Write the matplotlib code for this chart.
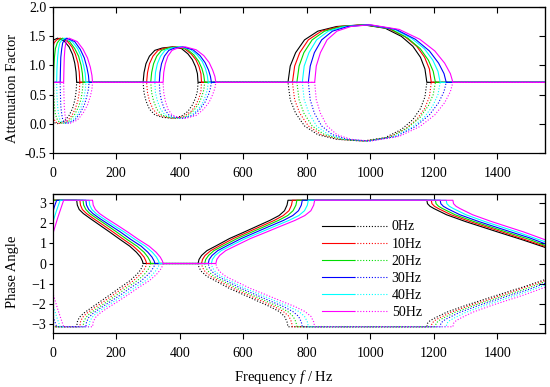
import matplotlib
matplotlib.use("Agg")
import matplotlib.pyplot as plt
from matplotlib.legend_handler import HandlerTuple

plt.rcParams['font.family'] = ['Liberation Serif', 'DejaVu Serif']
plt.rcParams['font.size'] = 10
plt.rcParams['mathtext.fontset'] = 'custom'
plt.rcParams['mathtext.it'] = 'Liberation Serif:italic'
plt.rcParams['mathtext.rm'] = 'Liberation Serif'

labels = ['0Hz', '10Hz', '20Hz', '30Hz', '40Hz', '50Hz']
top_colors = ['black', 'red', '#00dd00', 'cyan', 'blue', 'magenta']
bot_colors = ['black', 'red', '#00dd00', 'blue', 'cyan', 'magenta']

x_ticks = [0, 200, 400, 600, 800, 1000, 1200, 1400]
att_ticks = [-0.5, 0.0, 0.5, 1.0, 1.5, 2.0]
phase_ticks = [-3, -2, -1, 0, 1, 2, 3]

# ---- attenuation factor, solid = upper, dotted = lower
att_f_0 = [0, 4, 16, 37, 52, 63, 70, 74, 76,
           285, 288, 294, 305, 322, 345, 378, 406, 426, 440, 450, 456, 458,
           741, 748, 765, 793, 835, 894, 977, 1047, 1098, 1134, 1158, 1172, 1178, 1550]
att_up_0 = [1.41, 1.44, 1.47, 1.42, 1.32, 1.19, 1.04, 0.89, 0.71,
            0.71, 0.88, 1.03, 1.16, 1.26, 1.30, 1.32, 1.29, 1.20, 1.10, 0.98, 0.86, 0.71,
            0.71, 0.99, 1.22, 1.44, 1.59, 1.67, 1.70, 1.64, 1.50, 1.33, 1.14, 0.94, 0.71, 0.71]
att_lo_0 = [0.05, 0.02, 0.00, 0.04, 0.14, 0.26, 0.40, 0.54, 0.71,
            0.71, 0.53, 0.39, 0.25, 0.15, 0.11, 0.09, 0.13, 0.21, 0.32, 0.44, 0.56, 0.71,
            0.71, 0.41, 0.18, -0.04, -0.19, -0.27, -0.30, -0.24, -0.10, 0.07, 0.26, 0.46, 0.71, 0.71]

att_f_10 = [0, 5, 13, 24, 46, 61, 72, 80, 84, 86,
            296, 299, 305, 316, 332, 355, 386, 415, 436, 451, 461, 467, 469,
            755, 762, 778, 805, 846, 903, 982, 1056, 1108, 1146, 1171, 1186, 1192, 1550]
att_up_10 = [1.29, 1.39, 1.44, 1.47, 1.42, 1.32, 1.19, 1.04, 0.89, 0.71,
             0.71, 0.88, 1.03, 1.16, 1.26, 1.30, 1.32, 1.29, 1.20, 1.10, 0.98, 0.86, 0.71,
             0.71, 0.99, 1.22, 1.44, 1.59, 1.67, 1.70, 1.64, 1.50, 1.33, 1.14, 0.94, 0.71, 0.71]
att_lo_10 = [0.16, 0.07, 0.02, 0.00, 0.04, 0.14, 0.26, 0.40, 0.54, 0.71,
             0.71, 0.53, 0.39, 0.25, 0.15, 0.11, 0.09, 0.13, 0.21, 0.32, 0.44, 0.56, 0.71,
             0.71, 0.41, 0.18, -0.04, -0.19, -0.27, -0.30, -0.24, -0.10, 0.07, 0.26, 0.46, 0.71, 0.71]

att_f_20 = [0, 3, 4, 6, 9, 15, 22, 32, 54, 70, 82, 90, 94, 96,
            309, 312, 318, 328, 343, 364, 394, 424, 445, 460, 470, 476, 479,
            769, 776, 791, 817, 856, 911, 987, 1063, 1118, 1157, 1183, 1198, 1205, 1550]
att_up_20 = [0.71, 0.71, 0.95, 1.14, 1.29, 1.39, 1.44, 1.47, 1.41, 1.29, 1.16, 1.00, 0.86, 0.71,
             0.71, 0.88, 1.03, 1.16, 1.26, 1.30, 1.32, 1.28, 1.18, 1.07, 0.95, 0.83, 0.71,
             0.71, 0.99, 1.22, 1.44, 1.59, 1.67, 1.70, 1.63, 1.47, 1.29, 1.09, 0.90, 0.71, 0.71]
att_lo_20 = [0.71, 0.71, 0.48, 0.30, 0.16, 0.07, 0.02, 0.00, 0.05, 0.16, 0.29, 0.43, 0.57, 0.71,
             0.71, 0.53, 0.39, 0.25, 0.15, 0.11, 0.09, 0.13, 0.23, 0.34, 0.47, 0.58, 0.71,
             0.71, 0.41, 0.18, -0.04, -0.19, -0.27, -0.30, -0.23, -0.07, 0.11, 0.31, 0.50, 0.71, 0.71]

att_f_30 = [0, 13, 14, 16, 19, 23, 30, 39, 62, 79, 90, 98, 103, 105,
            322, 324, 330, 340, 354, 374, 402, 433, 455, 471, 481, 487, 490,
            786, 792, 807, 831, 868, 920, 992, 1072, 1129, 1170, 1197, 1213, 1220, 1550]
att_up_30 = [0.71, 0.71, 0.95, 1.14, 1.29, 1.39, 1.44, 1.47, 1.41, 1.29, 1.16, 1.00, 0.86, 0.71,
             0.71, 0.88, 1.03, 1.16, 1.26, 1.30, 1.32, 1.28, 1.18, 1.07, 0.95, 0.83, 0.71,
             0.71, 0.99, 1.22, 1.44, 1.59, 1.67, 1.70, 1.63, 1.47, 1.29, 1.09, 0.90, 0.71, 0.71]
att_lo_30 = [0.71, 0.71, 0.48, 0.30, 0.16, 0.07, 0.02, 0.00, 0.05, 0.16, 0.29, 0.43, 0.57, 0.71,
             0.71, 0.53, 0.39, 0.25, 0.15, 0.11, 0.09, 0.13, 0.23, 0.34, 0.47, 0.58, 0.71,
             0.71, 0.41, 0.18, -0.04, -0.19, -0.27, -0.30, -0.23, -0.07, 0.11, 0.31, 0.50, 0.71, 0.71]

att_f_40 = [0, 24, 25, 26, 29, 32, 38, 45, 70, 87, 100, 108, 113, 115,
            336, 338, 343, 352, 366, 384, 410, 442, 464, 480, 491, 497, 500,
            805, 811, 824, 847, 881, 929, 996, 1081, 1142, 1186, 1215, 1232, 1239, 1550]
att_up_40 = [0.71, 0.71, 0.95, 1.14, 1.29, 1.39, 1.44, 1.47, 1.41, 1.28, 1.13, 0.97, 0.83, 0.71,
             0.71, 0.88, 1.03, 1.16, 1.26, 1.30, 1.32, 1.27, 1.17, 1.05, 0.92, 0.81, 0.71,
             0.71, 0.99, 1.22, 1.44, 1.59, 1.67, 1.70, 1.62, 1.45, 1.25, 1.04, 0.86, 0.71, 0.71]
att_lo_40 = [0.71, 0.71, 0.48, 0.30, 0.16, 0.07, 0.02, 0.00, 0.06, 0.18, 0.32, 0.47, 0.59, 0.71,
             0.71, 0.53, 0.39, 0.25, 0.15, 0.11, 0.09, 0.14, 0.25, 0.37, 0.50, 0.61, 0.71,
             0.71, 0.41, 0.18, -0.04, -0.19, -0.27, -0.30, -0.22, -0.05, 0.15, 0.36, 0.55, 0.71, 0.71]

att_f_50 = [0, 35, 36, 37, 39, 42, 46, 52, 78, 96, 110, 119, 124, 126,
            348, 350, 355, 363, 376, 394, 418, 452, 476, 493, 504, 511, 514,
            825, 830, 843, 864, 895, 939, 1000, 1091, 1156, 1203, 1234, 1252, 1260, 1550]
att_up_50 = [0.71, 0.71, 0.95, 1.14, 1.29, 1.39, 1.44, 1.47, 1.41, 1.28, 1.13, 0.97, 0.83, 0.71,
             0.71, 0.88, 1.03, 1.16, 1.26, 1.30, 1.32, 1.27, 1.17, 1.05, 0.92, 0.81, 0.71,
             0.71, 0.99, 1.22, 1.44, 1.59, 1.67, 1.70, 1.62, 1.45, 1.25, 1.04, 0.86, 0.71, 0.71]
att_lo_50 = [0.71, 0.71, 0.48, 0.30, 0.16, 0.07, 0.02, 0.00, 0.06, 0.18, 0.32, 0.47, 0.59, 0.71,
             0.71, 0.53, 0.39, 0.25, 0.15, 0.11, 0.09, 0.14, 0.25, 0.37, 0.50, 0.61, 0.71,
             0.71, 0.41, 0.18, -0.04, -0.19, -0.27, -0.30, -0.22, -0.05, 0.15, 0.36, 0.55, 0.71, 0.71]

# ---- phase angle pieces
fall_up = [3.14, 2.90, 2.68, 2.48, 2.24, 1.90, 1.56, 1.20, 0.86, 0.56, 0.32, 0.12, 0.0]
fall_lo = [-3.14, -2.90, -2.68, -2.48, -2.24, -1.90, -1.56, -1.20, -0.86, -0.56, -0.32, -0.12, 0.0]
rise_up = [0.0, 0.20, 0.40, 0.64, 0.88, 1.24, 1.54, 1.84, 2.14, 2.38, 2.62, 2.90, 3.14]
rise_lo = [0.0, -0.20, -0.40, -0.64, -0.88, -1.24, -1.54, -1.84, -2.14, -2.38, -2.62, -2.90, -3.14]

ph_f_0 = [0, 76, 78, 84, 97, 118, 149, 180, 212, 243, 264, 277, 283, 285,
          458, 461, 469, 486, 515, 557, 600, 642, 684, 713, 730, 738, 741,
          1178, 1180, 1188, 1200, 1240, 1300, 1400, 1480, 1550]
ph_up_0 = [3.14] + fall_up + rise_up + [3.14, 2.97, 2.84, 2.73, 2.42, 2.08, 1.57, 1.17, 0.80]
ph_lo_0 = [-3.14] + fall_lo + rise_lo + [-3.14, -2.97, -2.84, -2.73, -2.42, -2.08, -1.57, -1.17, -0.80]

ph_f_10 = [0, 86, 88, 94, 107, 128, 160, 191, 223, 254, 275, 288, 294, 296,
           469, 472, 480, 498, 526, 569, 612, 655, 698, 726, 744, 752, 755,
           1192, 1194, 1202, 1214, 1254, 1314, 1414, 1490, 1550]
ph_up_10 = [3.14] + fall_up + rise_up + [3.14, 2.97, 2.84, 2.73, 2.42, 2.08, 1.57, 1.17, 0.85]
ph_lo_10 = [-3.14] + fall_lo + rise_lo + [-3.14, -2.97, -2.84, -2.73, -2.42, -2.08, -1.57, -1.17, -0.85]

ph_f_20 = [0, 3, 96, 98, 105, 117, 139, 171, 202, 234, 266, 288, 300, 307, 309,
           479, 482, 491, 508, 537, 581, 624, 668, 711, 740, 757, 766, 769,
           1205, 1207, 1215, 1227, 1267, 1327, 1427, 1500, 1550]
ph_up_20 = [2.99, 3.14] + fall_up + rise_up + [3.14, 2.97, 2.84, 2.73, 2.42, 2.08, 1.57, 1.20, 0.90]
ph_lo_20 = [-2.99, -3.14] + fall_lo + rise_lo + [-3.14, -2.97, -2.84, -2.73, -2.42, -2.08, -1.57, -1.20, -0.90]

ph_f_30 = [0, 6, 13, 105, 107, 114, 127, 148, 181, 214, 246, 279, 300, 313, 320, 322,
           490, 493, 502, 520, 549, 594, 638, 682, 727, 756, 774, 783, 786,
           1220, 1222, 1230, 1242, 1282, 1342, 1442, 1500, 1550]
ph_up_30 = [2.50, 2.83, 3.14] + fall_up + rise_up + [3.14, 2.97, 2.84, 2.73, 2.42, 2.08, 1.57, 1.28, 0.98]
ph_lo_30 = [-2.50, -2.83, -3.14] + fall_lo + rise_lo + [-3.14, -2.97, -2.84, -2.73, -2.42, -2.08, -1.57, -1.28, -0.98]

ph_f_40 = [0, 12, 24, 115, 117, 124, 137, 159, 192, 226, 259, 292, 314, 327, 334, 336,
           500, 503, 512, 531, 561, 607, 653, 698, 744, 775, 793, 802, 805,
           1239, 1241, 1249, 1261, 1301, 1361, 1461, 1510, 1550]
ph_up_40 = [2.00, 2.60, 3.14] + fall_up + rise_up + [3.14, 2.97, 2.84, 2.73, 2.42, 2.08, 1.57, 1.30, 1.08]
ph_lo_40 = [-2.00, -2.60, -3.14] + fall_lo + rise_lo + [-3.14, -2.97, -2.84, -2.73, -2.42, -2.08, -1.57, -1.30, -1.08]

ph_f_50 = [0, 17, 35, 126, 128, 135, 148, 170, 204, 237, 270, 304, 326, 339, 346, 348,
           514, 517, 526, 545, 576, 623, 670, 716, 763, 794, 813, 822, 825,
           1260, 1262, 1270, 1282, 1322, 1382, 1482, 1550]
ph_up_50 = [1.42, 2.30, 3.14] + fall_up + rise_up + [3.14, 2.97, 2.84, 2.73, 2.42, 2.08, 1.57, 1.18]
ph_lo_50 = [-1.42, -2.30, -3.14] + fall_lo + rise_lo + [-3.14, -2.97, -2.84, -2.73, -2.42, -2.08, -1.57, -1.18]

att_f = [att_f_0, att_f_10, att_f_20, att_f_30, att_f_40, att_f_50]
att_up = [att_up_0, att_up_10, att_up_20, att_up_30, att_up_40, att_up_50]
att_lo = [att_lo_0, att_lo_10, att_lo_20, att_lo_30, att_lo_40, att_lo_50]
ph_f = [ph_f_0, ph_f_10, ph_f_20, ph_f_30, ph_f_40, ph_f_50]
ph_up = [ph_up_0, ph_up_10, ph_up_20, ph_up_30, ph_up_40, ph_up_50]
ph_lo = [ph_lo_0, ph_lo_10, ph_lo_20, ph_lo_30, ph_lo_40, ph_lo_50]

dots = (0, (1, 1.6))

fig = plt.figure(figsize=(5.5, 3.87), dpi=100)
ax1 = fig.add_axes([0.0955, 0.6054, 0.8955, 0.3757])
ax2 = fig.add_axes([0.0955, 0.1395, 0.8955, 0.3592])

for i in range(6):
    ax1.plot(att_f[i], att_lo[i], color=top_colors[i], lw=0.8, ls=dots)
    ax1.plot(att_f[i], att_up[i], color=top_colors[i], lw=0.8)

handles = []
for i in range(6):
    l_dot, = ax2.plot(ph_f[i], ph_lo[i], color=bot_colors[i], lw=0.8, ls=dots)
    l_sol, = ax2.plot(ph_f[i], ph_up[i], color=bot_colors[i], lw=0.8)
    handles.append((l_sol, l_dot))

ax2.legend(handles, labels, handler_map={tuple: HandlerTuple(ndivide=None, pad=0)},
           loc='upper left', bbox_to_anchor=(0.535, 0.85), frameon=False,
           handlelength=4.7, handletextpad=0.35, labelspacing=0.3, fontsize=10,
           borderaxespad=0)

ax1.set_xlim(0, 1550)
ax1.set_ylim(-0.5, 2.0)
ax2.set_xlim(0, 1550)
ax2.set_ylim(-3.45, 3.45)

for ax, yt in ((ax1, att_ticks), (ax2, phase_ticks)):
    ax.set_xticks(x_ticks)
    ax.set_yticks(yt)
    ax.tick_params(axis='x', direction='out', length=4, width=0.8, pad=6)
    ax.tick_params(axis='y', direction='out', length=3, width=0.8, pad=1.5)
    for s in ax.spines.values():
        s.set_linewidth(0.9)
    top = ax.secondary_xaxis('top')
    top.set_xticks(x_ticks)
    top.tick_params(direction='in', length=4.5, width=0.8, labeltop=False)
    right = ax.secondary_yaxis('right')
    right.set_yticks(yt)
    right.tick_params(direction='in', length=4.5, width=0.8, labelright=False)

ax1.set_yticklabels(['-0.5', '0.0', '0.5', '1.0', '1.5', '2.0'])

fig.text(0.022, 1 - 88 / 387, 'Attenuation Factor', rotation=90, ha='center', va='center', fontsize=10.5)
fig.text(0.022, 1 - 272 / 387, 'Phase Angle', rotation=90, ha='center', va='center', fontsize=10.5)
fig.text(0.516, 1 - 377 / 387, 'Frequency $f$ / Hz', ha='center', va='center', fontsize=10.5)

fig.savefig('out.png', dpi=100)
